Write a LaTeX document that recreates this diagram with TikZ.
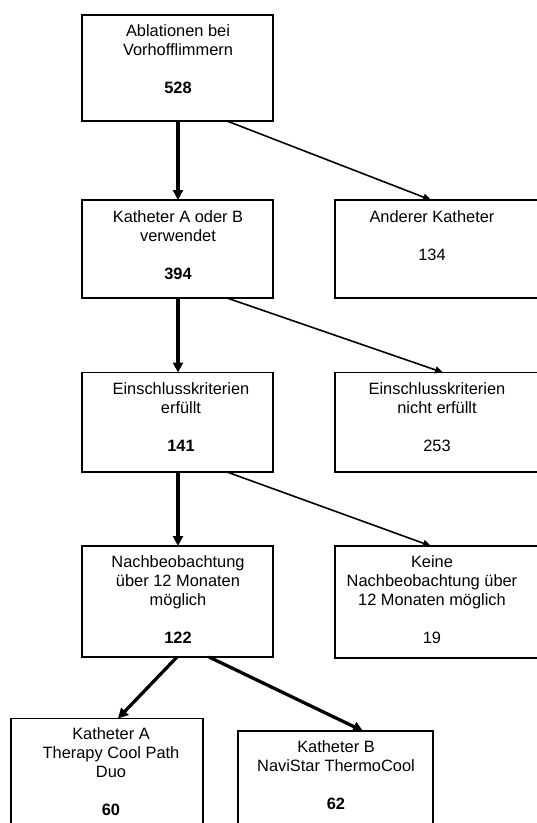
\documentclass[tikz,border=0pt]{standalone}
\usepackage{fontspec}
\setmainfont{Liberation Sans}
\usetikzlibrary{arrows.meta,calc}
\begin{document}
\begin{tikzpicture}[x=1pt,y=-1pt,
  box/.style={draw,line width=1.1pt,anchor=north west,inner sep=0pt,outer sep=0pt},
  txt/.style={anchor=north,inner sep=0pt,align=center,font=\fontsize{16.4}{19}\selectfont},
  bigarrow/.style={line width=3.3pt,-{Triangle[length=10pt,width=10pt]}},
  thinarrow/.style={line width=1.6pt,-{Triangle[length=8pt,width=7pt]}}]
\useasboundingbox (0,0) rectangle (537,823);
\clip (0,0) rectangle (537,823);
% boxes
\node[box,minimum width=191pt,minimum height=106pt] (b1) at (82,15) {};
\node[box,minimum width=191pt,minimum height=98pt] (b2) at (82,200) {};
\node[box,minimum width=210pt,minimum height=98pt] (r2) at (335,200) {};
\node[box,minimum width=191pt,minimum height=99.5pt] (b3) at (82,372.5) {};
\node[box,minimum width=210pt,minimum height=99.5pt] (r3) at (335,372.5) {};
\node[box,minimum width=191pt,minimum height=111pt] (b4) at (82,546) {};
\node[box,minimum width=210pt,minimum height=112pt] (r4) at (335,546) {};
\node[box,minimum width=192pt,minimum height=130pt] (bA) at (11,718.5) {};
\node[box,minimum width=195pt,minimum height=120pt] (bB) at (238,731) {};
% texts
\node[txt] (t1) at ($(b1.north west)+(96,9)$) {Ablationen bei\\Vorhofflimmern\\[19pt]\textbf{528}};
\node[txt] (t2) at ($(b2.north west)+(96,10)$) {Katheter A oder B\\verwendet\\[19pt]\textbf{394}};
\node[txt] (u2) at ($(r2.north west)+(97,10)$) {Anderer Katheter\\[19pt]134};
\node[txt] (t3) at ($(b3.north west)+(99,9.5)$) {Einschlusskriterien\\erfüllt\\[19pt]\textbf{141}};
\node[txt] (u3) at ($(r3.north west)+(102,9.5)$) {Einschlusskriterien\\nicht erfüllt\\[19pt]253};
\node[txt] (t4) at ($(b4.north west)+(96,9.5)$) {Nachbeobachtung\\über 12 Monaten\\möglich\\[19pt]\textbf{122}};
\node[txt] (u4) at ($(r4.north west)+(97,9.5)$) {Keine\\Nachbeobachtung über\\12 Monaten möglich\\[19pt]19};
\node[txt] (tA) at ($(bA.north west)+(100,8.5)$) {Katheter A\\Therapy Cool Path\\Duo\\[19pt]\textbf{60}};
\node[txt] (tB) at ($(bB.north west)+(98,9)$) {Katheter B\\NaviStar ThermoCool\\[19pt]\textbf{62}};
% connectors
\draw[bigarrow] ($(b1.south west)+(96,0)$) -- ($(b2.north west)+(96,0)$);
\draw[thinarrow] ($(b1.south west)+(145,0)$) -- ($(r2.north west)+(96,0)$);
\draw[bigarrow] ($(b2.south west)+(96,0)$) -- ($(b3.north west)+(96,0)$);
\draw[thinarrow] ($(b2.south west)+(145,0)$) -- ($(r3.north west)+(108,0)$);
\draw[bigarrow] ($(b3.south west)+(96,0)$) -- ($(b4.north west)+(96,0)$);
\draw[thinarrow] ($(b3.south west)+(145,0)$) -- ($(r4.north west)+(96,0)$);
\draw[bigarrow] ($(b4.south west)+(95,0)$) -- ($(bA.north west)+(107,0)$);
\draw[bigarrow] ($(b4.south west)+(127,0)$) -- ($(bB.north west)+(125,0)$);
\end{tikzpicture}
\end{document}
